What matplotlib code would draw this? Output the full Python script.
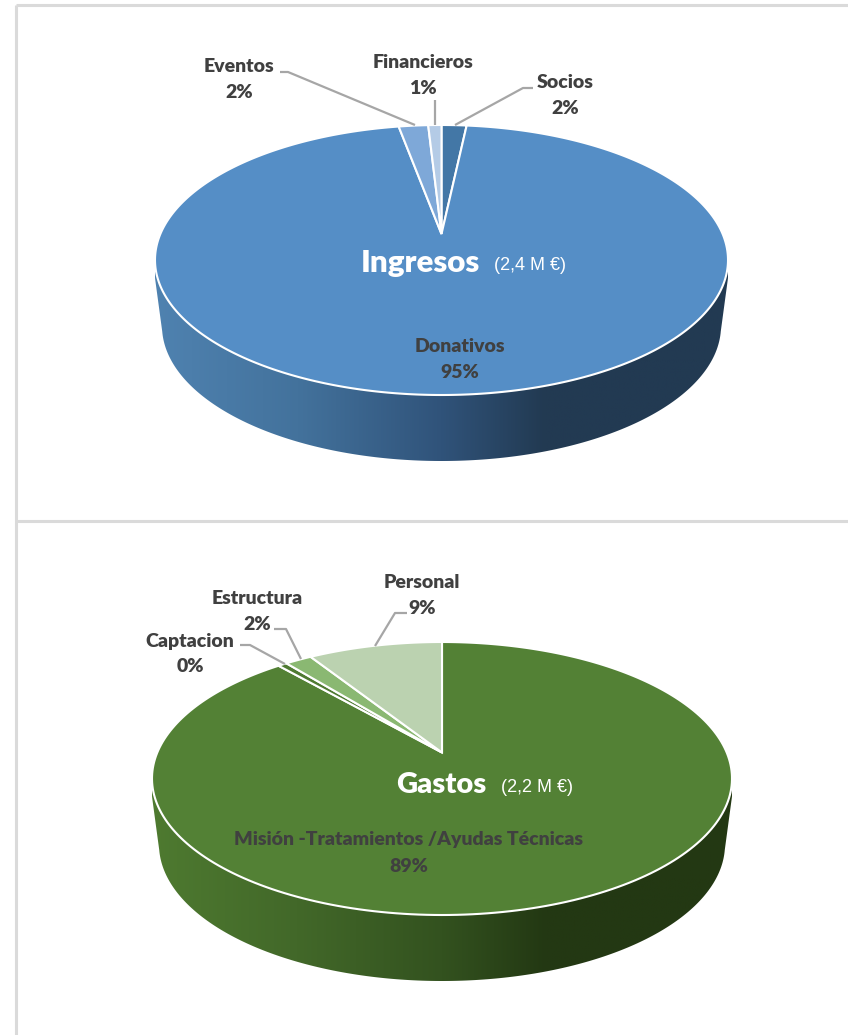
import numpy as np
import matplotlib
matplotlib.use("Agg")
import matplotlib.pyplot as plt
from matplotlib.colors import LinearSegmentedColormap
from matplotlib.path import Path
from matplotlib.patches import PathPatch
from matplotlib.transforms import Transform, Affine2D

# ---- data ----
ingresos_labels = ["Socios", "Donativos", "Eventos", "Financieros"]
ingresos_values = [1.7, 95.4, 2.0, 0.9]
ingresos_pct = ["2%", "95%", "2%", "1%"]
ingresos_colors = ["#4377A6", "#558EC6", "#7EA8D8", "#B4CBE6"]

gastos_labels = ["Misión -Tratamientos /Ayudas Técnicas", "Captacion", "Estructura", "Personal"]
gastos_values = [88.6, 0.6, 1.8, 9.0]
gastos_pct = ["89%", "0%", "2%", "9%"]
gastos_colors = ["#538135", "#4F7A32", "#8AB872", "#BBD2B0"]

TEXT = "#404040"
LEADER = "#A6A6A6"
BORDER = "#DADADA"
FONT = "Lato"


class Perspective(Transform):
    """Maps the unit-circle pie onto a tilted disc in pixel coordinates."""
    input_dims = output_dims = 2
    is_affine = False
    has_inverse = False

    def __init__(self, cx, rx, top, bottom, apex):
        super().__init__()
        self.cx, self.apex = cx, apex
        self.k = (2 * apex - top - bottom) / (top - bottom)
        self.p = top * (1 + self.k) - apex
        cy = (top + bottom) / 2
        y = (cy - apex) / (self.p - cy * self.k)
        self.X = rx * (1 + self.k * y) / np.sqrt(1 - y * y)

    def transform_non_affine(self, values):
        v = np.asarray(values, float)
        d = 1 + self.k * v[:, 1]
        return np.column_stack([self.cx + self.X * v[:, 0] / d,
                                (self.apex + self.p * v[:, 1]) / d])

    def transform_path_non_affine(self, path):
        poly = path.to_polygons(Affine2D().scale(3000), closed_only=False)[0] / 3000
        pts = self.transform_non_affine(poly)
        return Path(np.vstack([pts, pts[:1]]), closed=True)


def disc(ax, values, colors, cx, rx, top, bottom, apex, depth, wall_stops, taper=7):
    cy = (top + bottom) / 2
    ry = (bottom - top) / 2
    # side wall with horizontal gradient; its lower rim is slightly narrower (perspective)
    t = np.linspace(0.04, np.pi - 0.04, 200)
    lower = np.column_stack([cx - (rx - taper) * np.cos(t), cy + ry * np.sin(t) + depth])
    wall = Path(np.vstack([[[cx - rx, cy - 1]], [[cx - rx, cy + 18]], lower,
                           [[cx + rx, cy + 18]], [[cx + rx, cy - 1]], [[cx - rx, cy - 1]]]), closed=True)
    cmap = LinearSegmentedColormap.from_list("wall", wall_stops)
    im = ax.imshow(np.linspace(0, 1, 256)[None, :], cmap=cmap, aspect="auto", zorder=1,
                   extent=(cx - rx, cx + rx, cy + ry + depth, cy))
    im.set_clip_path(PathPatch(wall, transform=ax.transData))
    # top surface
    wedges, _ = ax.pie(values, colors=colors, startangle=90, counterclock=False,
                       wedgeprops=dict(edgecolor="white", linewidth=1.5, joinstyle="miter", zorder=2))
    h = Perspective(cx, rx, top, bottom, apex)
    for w in wedges:
        w.set_transform(h + ax.transData)
        w.set_zorder(2)


def label(ax, x, y, name, pct, dy=26):
    ax.text(x, y + 1, name, ha="center", va="center", fontsize=LABEL_SIZE, fontweight=800,
            color=TEXT, family=FONT, zorder=5)
    ax.text(x, y + 1 + dy, pct, ha="center", va="center", fontsize=LABEL_SIZE,
            fontweight=800, color=TEXT, family=FONT, zorder=5)


def leader(ax, xs, ys):
    ax.plot(xs, ys, color=LEADER, lw=1.6, zorder=4, solid_capstyle="butt")


LABEL_SIZE = 14

fig = plt.figure(figsize=(8.48, 10.35), dpi=100, facecolor="white")
ax = fig.add_axes([0, 0, 1, 1])

disc(ax, ingresos_values, ingresos_colors, 441.5, 286.5, 125, 395, 234, 66,
     [(0, "#4F82B0"), (0.25, "#43729C"), (0.5, "#30537A"), (0.68, "#223A52"), (1, "#223A52")])
disc(ax, gastos_values, gastos_colors, 442, 290, 642, 915, 752.5, 66,
     [(0, "#4E7A30"), (0.25, "#426829"), (0.5, "#33521F"), (0.68, "#233813"), (1, "#233813")])

# frame lines
for xs, ys in [((16, 848), (5, 5)), ((16, 16), (5, 1035)), ((16, 848), (521, 521))]:
    ax.plot(xs, ys, color=BORDER, lw=2.2, zorder=0, solid_capstyle="butt")

# Ingresos texts
label(ax, 565, 82, ingresos_labels[0], ingresos_pct[0])
label(ax, 460, 346, ingresos_labels[1], ingresos_pct[1])
label(ax, 239, 65, ingresos_labels[2], ingresos_pct[2])
label(ax, 423, 62, ingresos_labels[3], ingresos_pct[3])
leader(ax, [533, 523, 455], [88, 88, 125])
leader(ax, [280, 288, 415], [72, 72, 125])
leader(ax, [435, 435], [100, 125])
ax.text(420, 263, "Ingresos", ha="center", va="center", color="white", fontsize=22.5,
        fontweight=800, family=FONT, zorder=5)
ax.text(530, 266, "(2,4 M €)", ha="center", va="center", color="white", fontsize=13,
        family="Liberation Sans", zorder=5)

# Gastos texts
label(ax, 409, 839, gastos_labels[0], gastos_pct[0])
label(ax, 190, 640, gastos_labels[1], gastos_pct[1])
label(ax, 257, 597, gastos_labels[2], gastos_pct[2])
label(ax, 422, 581, gastos_labels[3], gastos_pct[3])
leader(ax, [240, 250, 285], [645, 645, 664])
leader(ax, [274, 286, 301], [629, 629, 659])
leader(ax, [407, 395, 375], [613, 613, 646])
ax.text(441, 785, "Gastos", ha="center", va="center", color="white", fontsize=21,
        fontweight=800, family=FONT, zorder=5)
ax.text(537, 788, "(2,2 M €)", ha="center", va="center", color="white", fontsize=13,
        family="Liberation Sans", zorder=5)

ax.set_xlim(0, 848)
ax.set_ylim(1035, 0)
ax.set_aspect("auto")
ax.axis("off")
fig.savefig("out.png", dpi=100)
